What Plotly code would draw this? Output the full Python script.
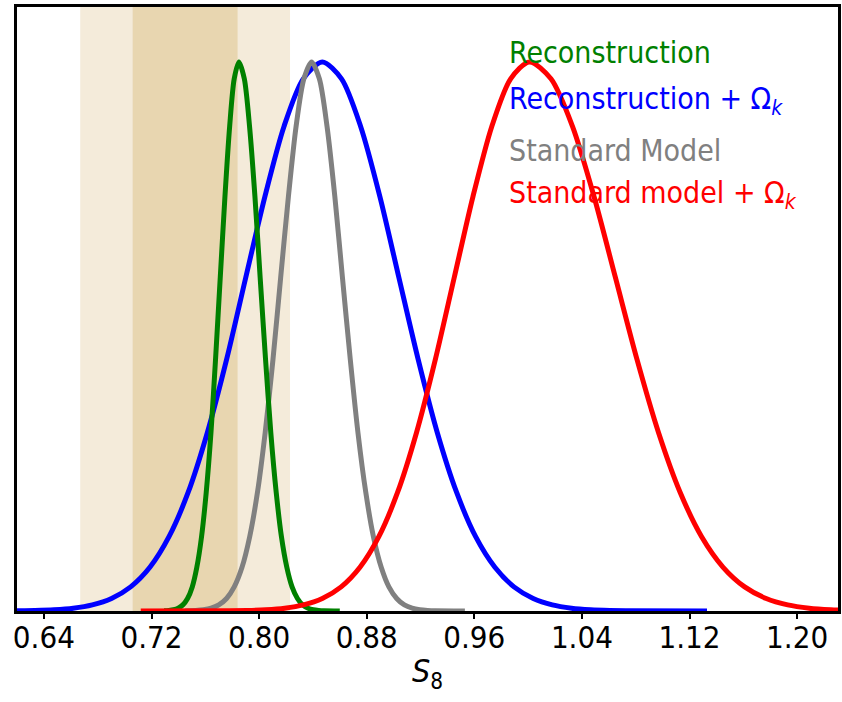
import plotly.graph_objects as go

# S8 posteriors (peak-normalised densities)
recon_s8 = [0.7294, 0.7329, 0.7364, 0.7398, 0.7433, 0.7468, 0.7503, 0.7537, 0.7572,
            0.7607, 0.7642, 0.7676, 0.7711, 0.7746, 0.7781, 0.7815, 0.7850,
            0.7890, 0.7929, 0.7969, 0.8008, 0.8048, 0.8087, 0.8127, 0.8166,
            0.8206, 0.8245, 0.8285, 0.8324, 0.8364, 0.8403, 0.8443, 0.8482, 0.8600]
recon_p = [0.0003, 0.0009, 0.0022, 0.0051, 0.0111, 0.0228, 0.0439, 0.0796, 0.1353,
           0.2163, 0.3247, 0.4578, 0.6065, 0.7548, 0.8825, 0.9692, 1.0,
           0.9692, 0.8825, 0.7548, 0.6065, 0.4578, 0.3247, 0.2163, 0.1353,
           0.0796, 0.0439, 0.0228, 0.0111, 0.0051, 0.0022, 0.0009, 0.0003, 0.0]

recon_ok_s8 = [0.6000, 0.6190, 0.6333, 0.6475, 0.6618, 0.6760, 0.6903, 0.7045, 0.7188,
               0.7330, 0.7473, 0.7615, 0.7758, 0.7900, 0.8043, 0.8185, 0.8328, 0.8470,
               0.8613, 0.8755, 0.8898, 0.9040, 0.9183, 0.9325, 0.9468, 0.9610,
               0.9753, 0.9895, 1.0038, 1.0180, 1.0323, 1.0465, 1.0608, 1.0750, 1.1330]
recon_ok_p = [0.0, 0.0003, 0.0009, 0.0022, 0.0051, 0.0111, 0.0228, 0.0439, 0.0796,
              0.1353, 0.2163, 0.3247, 0.4578, 0.6065, 0.7548, 0.8825, 0.9692, 1.0,
              0.9692, 0.8825, 0.7548, 0.6065, 0.4578, 0.3247, 0.2163, 0.1353,
              0.0796, 0.0439, 0.0228, 0.0111, 0.0051, 0.0022, 0.0009, 0.0003, 0.0]

std_s8 = [0.7450, 0.7470, 0.7528, 0.7585, 0.7643, 0.7700, 0.7758, 0.7815, 0.7873, 0.7930,
          0.7988, 0.8045, 0.8103, 0.8160, 0.8218, 0.8275, 0.8333, 0.8390,
          0.8448, 0.8505, 0.8563, 0.8620, 0.8678, 0.8735, 0.8793, 0.8850,
          0.8908, 0.8965, 0.9023, 0.9080, 0.9138, 0.9195, 0.9253, 0.9310, 0.9530]
std_p = [0.0, 0.0003, 0.0009, 0.0022, 0.0051, 0.0111, 0.0228, 0.0439, 0.0796, 0.1353,
         0.2163, 0.3247, 0.4578, 0.6065, 0.7548, 0.8825, 0.9692, 1.0,
         0.9692, 0.8825, 0.7548, 0.6065, 0.4578, 0.3247, 0.2163, 0.1353,
         0.0796, 0.0439, 0.0228, 0.0111, 0.0051, 0.0022, 0.0009, 0.0003, 0.0]

std_ok_s8 = [0.712, 0.777, 0.791, 0.805, 0.819, 0.833, 0.847, 0.861, 0.875, 0.889,
             0.903, 0.917, 0.931, 0.945, 0.959, 0.973, 0.987, 1.001,
             1.017, 1.033, 1.049, 1.065, 1.081, 1.097, 1.113, 1.129,
             1.145, 1.161, 1.177, 1.193, 1.209, 1.225, 1.241, 1.257]
std_ok_p = [0.0, 0.0003, 0.0009, 0.0022, 0.0051, 0.0111, 0.0228, 0.0439, 0.0796, 0.1353,
            0.2163, 0.3247, 0.4578, 0.6065, 0.7548, 0.8825, 0.9692, 1.0,
            0.9692, 0.8825, 0.7548, 0.6065, 0.4578, 0.3247, 0.2163, 0.1353,
            0.0796, 0.0439, 0.0228, 0.0111, 0.0051, 0.0022, 0.0009, 0.0003]

# weak-lensing S8 constraint: 1 sigma and 2 sigma intervals
band_1sigma = [0.706, 0.784]
band_2sigma = [0.667, 0.823]

tick_vals = [0.64, 0.72, 0.80, 0.88, 0.96, 1.04, 1.12, 1.20]
tick_text = ["0.64", "0.72", "0.80", "0.88", "0.96", "1.04", "1.12", "1.20"]

labels = ["Reconstruction",
          "Reconstruction + Ω<sub><i>k</i></sub>",
          "Standard Model",
          "Standard model + Ω<sub><i>k</i></sub>"]
label_colors = ["#008000", "#0000ff", "#808080", "#ff0000"]
label_y = [0.925, 0.845, 0.762, 0.690]

FONT = "DejaVu Sans Condensed, Liberation Sans, Arial, sans-serif"

fig = go.Figure()

# drawing order: blue, gray, green, red (red on top)
curves = [
    (recon_ok_s8, recon_ok_p, "#0000ff"),
    (std_s8, std_p, "#808080"),
    (recon_s8, recon_p, "#008000"),
    (std_ok_s8, std_ok_p, "#ff0000"),
]
for xs, ys, col in curves:
    fig.add_trace(go.Scatter(
        x=xs, y=ys, mode="lines",
        line=dict(color=col, width=5, shape="spline", smoothing=0.8),
        showlegend=False, hoverinfo="skip",
    ))

fig.add_shape(type="rect", xref="x", yref="paper",
              x0=band_2sigma[0], x1=band_2sigma[1], y0=0, y1=1,
              fillcolor="#f4ebda", line=dict(width=0), layer="below")
fig.add_shape(type="rect", xref="x", yref="paper",
              x0=band_1sigma[0], x1=band_1sigma[1], y0=0, y1=1,
              fillcolor="#e8d6b0", line=dict(width=0), layer="below")

for txt, col, yy in zip(labels, label_colors, label_y):
    fig.add_annotation(
        x=0.597, y=yy, xref="paper", yref="paper",
        xanchor="left", yanchor="middle", showarrow=False,
        text=txt, font=dict(family=FONT, size=30, color=col),
    )

fig.update_layout(
    width=842, height=702,
    margin=dict(l=17, r=1, t=7, b=91),
    paper_bgcolor="white", plot_bgcolor="white",
    xaxis=dict(
        range=[0.62, 1.2304],
        tickmode="array", tickvals=tick_vals, ticktext=tick_text,
        ticks="outside", ticklen=5, tickwidth=2, tickcolor="black",
        ticklabelstandoff=-8,
        tickfont=dict(family=FONT, size=31, color="black"),
        showline=True, linecolor="black", linewidth=3, mirror=True,
        showgrid=False, zeroline=False,
        title=dict(text="<i>S</i><sub>8</sub>",
                   font=dict(family=FONT, size=32, color="black"),
                   standoff=6),
    ),
    yaxis=dict(
        range=[0, 1.1],
        showticklabels=False, ticks="",
        showline=True, linecolor="black", linewidth=3, mirror=True,
        showgrid=False, zeroline=False,
    ),
)

fig.write_html("out.html")
